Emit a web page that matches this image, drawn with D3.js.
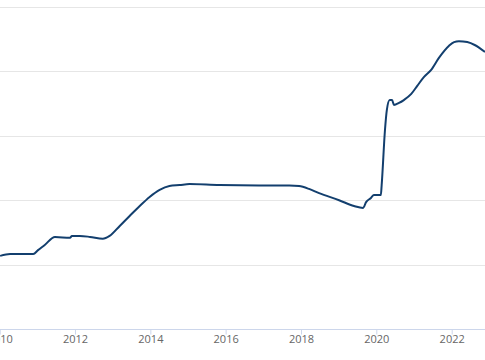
<!DOCTYPE html>
<html><head><meta charset="utf-8">
<script src="https://cdn.jsdelivr.net/npm/d3@7"></script>
<style>
html,body{margin:0;padding:0;background:#fff;overflow:hidden}
svg{display:block}
</style></head>
<body><svg id="c" width="485" height="360"></svg>
<script>
const dates = ["2010-01-05","2010-04-12","2010-09-01","2010-11-22","2011-01-08","2011-03-14","2011-06-21","2011-11-14","2011-12-02","2012-02-17","2012-05-26","2012-09-27","2012-12-02","2013-03-10","2013-06-14","2013-09-20","2013-12-25","2014-04-01","2014-07-05","2014-10-12","2015-01-15","2015-11-02","2016-11-20","2017-09-10","2017-12-13","2018-03-20","2018-06-25","2019-01-05","2019-05-30","2019-08-26","2019-09-24","2019-11-10","2019-12-09","2020-02-14","2020-02-22","2020-03-25","2020-04-12","2020-05-10","2020-06-02","2020-06-20","2020-08-08","2020-09-24","2020-12-05","2021-02-01","2021-04-08","2021-06-14","2021-08-30","2021-12-04","2022-01-24","2022-03-12","2022-06-01","2022-08-12","2022-11-20"];
const values = [2.27,2.33,2.33,2.33,2.45,2.61,2.86,2.83,2.89,2.89,2.86,2.80,2.89,3.20,3.51,3.82,4.10,4.32,4.44,4.47,4.50,4.47,4.46,4.46,4.44,4.35,4.22,4.00,3.82,3.76,3.94,4.07,4.16,4.16,4.47,6.18,6.80,7.11,7.11,6.96,7.02,7.11,7.30,7.55,7.83,8.04,8.42,8.79,8.91,8.94,8.91,8.82,8.60];
const yTicks = [0,2,4,6,8,10];
const xTickYears = [2010,2012,2014,2016,2018,2020,2022];

const parse = d3.timeParse("%Y-%m-%d");
const data = dates.map((d,i)=>({date:parse(d), value:values[i]}));
const svg = d3.select("#c");
const x = d3.scaleTime().domain([new Date(2010,0,4), new Date(2022,10,20)]).range([0,485]);
const y = d3.scaleLinear().domain([0,10]).range([329,7]);

svg.append("g").selectAll("line").data(yTicks.filter(t=>t>0)).join("line")
  .attr("x1",0).attr("x2",485)
  .attr("y1",d=>Math.round(y(d))+0.5).attr("y2",d=>Math.round(y(d))+0.5)
  .attr("stroke","#e6e6e6").attr("stroke-width",1);

const xAxis = d3.axisBottom(x)
  .tickValues(xTickYears.map(yr=>new Date(yr,0,1)))
  .tickFormat(d3.timeFormat("%Y"))
  .tickSize(5).tickSizeOuter(0);
const gx = svg.append("g").attr("transform",`translate(0,${Math.round(y(0))+0.5})`).call(xAxis);
gx.select(".domain").attr("stroke","#ccd6eb").attr("d","M-1,0H486");
gx.selectAll(".tick line").attr("stroke","#ccd6eb");
gx.selectAll(".tick text").attr("fill","#666").attr("font-size","11px")
  .attr("font-family","'Open Sans','DejaVu Sans',sans-serif").attr("dy","0.9em").attr("y",4);

const line = d3.line().x(d=>x(d.date)).y(d=>y(d.value)).curve(d3.curveMonotoneX);
svg.append("path").datum(data).attr("d",line)
  .attr("fill","none").attr("stroke","#133f6e").attr("stroke-width",2)
  .attr("stroke-linejoin","round");
</script></body></html>
